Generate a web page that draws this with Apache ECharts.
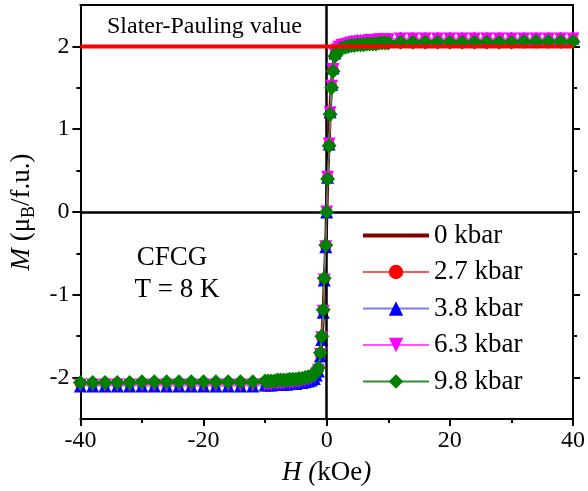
<!DOCTYPE html>
<html>
<head>
<meta charset="utf-8">
<script src="https://cdn.jsdelivr.net/npm/echarts@6/dist/echarts.min.js"></script>
<style>
  html, body { margin: 0; padding: 0; background: #fff; }
  #chart { width: 588px; height: 491px; }
</style>
</head>
<body>
<div id="chart"></div>
<script>
// Applied field H (kOe), shared by every pressure run
const fieldH = [
  -40, -38, -36, -34, -32, -30, -28, -26, -24, -22, -20, -18, -16, -14, -12,
  -10, -9.5, -9, -8.5, -8, -7.5, -7, -6.5, -6, -5.5, -5, -4.5, -4, -3.5, -3, -2.5, -2,
  -1.7, -1.34, -1.03, -0.8, -0.56, -0.4, -0.15, 0, 0.15, 0.4, 0.56, 0.8, 1.03, 1.34, 1.7,
  2, 2.5, 3, 3.5, 4, 4.5, 5, 5.5, 6, 6.5, 7, 7.5, 8, 8.5, 9, 9.5, 10,
  12, 14, 16, 18, 20, 22, 24, 26, 28, 30, 32, 34, 36, 38, 40
];

// Magnetization M (μB/f.u.) at each pressure
const m0kbar = [
  -2.07, -2.07, -2.07, -2.07, -2.07, -2.07, -2.07, -2.07, -2.07, -2.07, -2.07, -2.07, -2.07, -2.07, -2.07,
  -2.06, -2.06, -2.06, -2.05, -2.05, -2.05, -2.05, -2.04, -2.04, -2.04, -2.03, -2.03, -2.02, -2.01, -2.00, -1.99, -1.97,
  -1.95, -1.90, -1.75, -1.55, -1.25, -0.90, -0.45, 0, 0.45, 0.90, 1.25, 1.55, 1.75, 1.90, 1.95,
  1.97, 1.99, 2.00, 2.01, 2.02, 2.03, 2.03, 2.04, 2.04, 2.04, 2.05, 2.05, 2.05, 2.06, 2.06, 2.06, 2.06,
  2.07, 2.07, 2.07, 2.07, 2.07, 2.07, 2.07, 2.07, 2.07, 2.07, 2.07, 2.07, 2.07, 2.07, 2.07
];
const m27kbar = [
  -2.08, -2.08, -2.08, -2.08, -2.08, -2.08, -2.08, -2.08, -2.08, -2.08, -2.08, -2.08, -2.08, -2.08, -2.08,
  -2.07, -2.07, -2.07, -2.06, -2.06, -2.06, -2.06, -2.05, -2.05, -2.05, -2.04, -2.04, -2.03, -2.02, -2.01, -2.00, -1.98,
  -1.95, -1.90, -1.72, -1.52, -1.20, -0.82, -0.42, 0, 0.42, 0.82, 1.20, 1.52, 1.72, 1.90, 1.95,
  1.98, 2.00, 2.01, 2.02, 2.03, 2.04, 2.04, 2.05, 2.05, 2.05, 2.06, 2.06, 2.06, 2.07, 2.07, 2.07, 2.07,
  2.08, 2.08, 2.08, 2.08, 2.08, 2.08, 2.08, 2.08, 2.08, 2.08, 2.08, 2.08, 2.08, 2.08, 2.08
];
const m38kbar = [
  -2.10, -2.10, -2.10, -2.10, -2.10, -2.10, -2.10, -2.10, -2.10, -2.10, -2.10, -2.10, -2.10, -2.10, -2.10,
  -2.09, -2.09, -2.09, -2.08, -2.08, -2.08, -2.08, -2.08, -2.07, -2.07, -2.07, -2.06, -2.06, -2.05, -2.04, -2.03, -2.01,
  -1.97, -1.92, -1.74, -1.54, -1.21, -0.82, -0.42, 0, 0.42, 0.82, 1.21, 1.54, 1.74, 1.92, 1.97,
  2.01, 2.03, 2.04, 2.05, 2.06, 2.06, 2.07, 2.07, 2.07, 2.08, 2.08, 2.08, 2.08, 2.09, 2.09, 2.09, 2.09,
  2.10, 2.10, 2.10, 2.10, 2.10, 2.10, 2.10, 2.10, 2.10, 2.10, 2.10, 2.10, 2.10, 2.10, 2.10
];
const m63kbar = [
  -2.09, -2.09, -2.09, -2.09, -2.09, -2.09, -2.09, -2.09, -2.09, -2.09, -2.09, -2.09, -2.09, -2.09, -2.09,
  -2.08, -2.08, -2.08, -2.07, -2.07, -2.07, -2.07, -2.06, -2.06, -2.06, -2.05, -2.05, -2.04, -2.03, -2.02, -2.01, -1.99,
  -1.96, -1.91, -1.72, -1.52, -1.20, -0.82, -0.42, 0, 0.42, 0.82, 1.20, 1.52, 1.72, 1.91, 1.96,
  1.99, 2.01, 2.02, 2.03, 2.04, 2.05, 2.05, 2.06, 2.06, 2.06, 2.07, 2.07, 2.07, 2.08, 2.08, 2.08, 2.08,
  2.09, 2.09, 2.09, 2.09, 2.09, 2.09, 2.09, 2.09, 2.09, 2.09, 2.09, 2.09, 2.09, 2.09, 2.09
];
const m98kbar = [
  -2.06, -2.06, -2.06, -2.06, -2.06, -2.05, -2.05, -2.05, -2.05, -2.05, -2.05, -2.05, -2.05, -2.05, -2.05,
  -2.04, -2.04, -2.04, -2.04, -2.03, -2.03, -2.03, -2.03, -2.02, -2.02, -2.02, -2.01, -2.01, -2.00, -1.99, -1.98, -1.96,
  -1.93, -1.88, -1.70, -1.50, -1.18, -0.80, -0.40, 0, 0.40, 0.80, 1.18, 1.50, 1.70, 1.88, 1.93,
  1.96, 1.98, 1.99, 2.00, 2.01, 2.01, 2.02, 2.02, 2.02, 2.03, 2.03, 2.03, 2.03, 2.04, 2.04, 2.04, 2.04,
  2.05, 2.05, 2.05, 2.05, 2.05, 2.05, 2.05, 2.05, 2.05, 2.05, 2.06, 2.06, 2.06, 2.06, 2.06
];

const seriesNames = ['0 kbar', '2.7 kbar', '3.8 kbar', '6.3 kbar', '9.8 kbar'];
const slaterPauling = 2;
const xTicks = [-40, -20, 0, 20, 40];
const yTicks = [-2, -1, 0, 1, 2];
const yMinorTicks = [-1.5, -0.5, 0.5, 1.5];

const serif = 'Liberation Serif';
const black = '#000';

function pairs(values) {
  return fieldH.map((h, i) => [h, values[i]]);
}

const frameLine = { show: true, onZero: false, lineStyle: { color: black, width: 2 } };

function yAxisDef(position, ticks, tickLen, withLine, withLabels) {
  return {
    type: 'value', min: -2.5, max: 2.5, interval: 0.5, position: position,
    axisLine: withLine ? frameLine : { show: false, onZero: false },
    axisTick: { show: true, inside: false, length: tickLen, customValues: ticks,
                lineStyle: { color: black, width: 2 } },
    axisLabel: withLabels ? {
      show: true, customValues: yTicks, margin: 11,
      fontFamily: serif, fontSize: 24, color: black
    } : { show: false },
    splitLine: { show: false }
  };
}

const chart = echarts.init(document.getElementById('chart'), null, { renderer: 'canvas' });

const option = {
  animation: false,
  backgroundColor: '#fff',
  textStyle: { fontFamily: serif },
  grid: { left: 77, right: 11, top: 5, bottom: 68, containLabel: false },
  xAxis: [
    {
      type: 'value', min: -40, max: 40, interval: 20, position: 'bottom',
      axisLine: frameLine,
      axisTick: { show: true, inside: false, length: 7, lineStyle: { color: black, width: 2 } },
      minorTick: { show: true, splitNumber: 2, length: 4, lineStyle: { color: black, width: 2 } },
      axisLabel: { margin: 10, fontFamily: serif, fontSize: 24, color: black,
                   customValues: xTicks },
      splitLine: { show: false },
      name: '{i|H (}{n|kOe}{i|)}',
      nameLocation: 'middle', nameGap: 40,
      nameTextStyle: {
        fontFamily: serif, fontSize: 27,
        rich: {
          i: { fontFamily: serif, fontSize: 27, fontStyle: 'italic', color: black },
          n: { fontFamily: serif, fontSize: 27, color: black }
        }
      }
    },
    {
      type: 'value', min: -40, max: 40, interval: 20, position: 'top',
      axisLine: frameLine, axisTick: { show: false }, axisLabel: { show: false },
      splitLine: { show: false }
    }
  ],
  yAxis: [
    Object.assign(yAxisDef('left', yTicks, 8, true, true), {
      name: '{i|M }{n|(μ}{s|B}{n|/f.u.)}',
      nameLocation: 'middle', nameGap: 37, nameRotate: 90,
      nameTextStyle: {
        fontFamily: serif, fontSize: 27,
        rich: {
          i: { fontFamily: serif, fontSize: 27, fontStyle: 'italic', color: black, lineHeight: 34, verticalAlign: 'middle' },
          n: { fontFamily: serif, fontSize: 27, color: black, lineHeight: 34, verticalAlign: 'middle' },
          s: { fontFamily: serif, fontSize: 18, color: black, lineHeight: 34, verticalAlign: 'bottom' }
        }
      }
    }),
    yAxisDef('left', yMinorTicks, 4, false, false),
    yAxisDef('right', yTicks, 7, true, false),
    yAxisDef('right', yMinorTicks, 4, false, false)
  ],
  legend: {
    data: [
      { name: seriesNames[0], icon: 'path://M0 0H66V4H0Z' },
      seriesNames[1], seriesNames[2], seriesNames[3], seriesNames[4]
    ],
    orient: 'vertical',
    left: 362, top: 222,
    padding: 0,
    itemWidth: 66, itemHeight: 18, itemGap: 9.5,
    textStyle: { fontFamily: serif, fontSize: 27, color: black, lineHeight: 27 }
  },
  graphic: [
    { type: 'text', x: 107, y: 27, silent: true,
      style: { text: 'Slater-Pauling value', fontFamily: serif, fontSize: 24, fill: black,
               align: 'left', verticalAlign: 'middle' } },
    { type: 'text', x: 172, y: 258, silent: true,
      style: { text: 'CFCG', fontFamily: serif, fontSize: 27, fill: black,
               align: 'center', verticalAlign: 'middle' } },
    { type: 'text', x: 177, y: 290, silent: true,
      style: { text: 'T = 8 K', fontFamily: serif, fontSize: 27, fill: black,
               align: 'center', verticalAlign: 'middle' } }
  ],
  series: [
    // zero reference lines through the origin
    {
      name: 'origin', type: 'line', data: [[0, 0]], showSymbol: false, symbol: 'none',
      lineStyle: { width: 0 }, z: 1, silent: true,
      markLine: {
        silent: true, symbol: 'none', animation: false,
        label: { show: false },
        lineStyle: { color: black, width: 2.5, type: 'solid' },
        emphasis: { disabled: true },
        data: [{ yAxis: 0 }, { xAxis: 0 }]
      }
    },
    {
      name: seriesNames[0], type: 'line', data: pairs(m0kbar), z: 2,
      symbol: 'none', showSymbol: false,
      lineStyle: { color: '#800000', width: 3.5 },
      itemStyle: { color: '#800000' }
    },
    {
      name: seriesNames[1], type: 'line', data: pairs(m27kbar), z: 3,
      symbol: 'circle', symbolSize: 11,
      lineStyle: { color: '#ff5a5a', width: 1.2 },
      itemStyle: { color: '#ff0000' }
    },
    {
      name: seriesNames[2], type: 'line', data: pairs(m38kbar), z: 4,
      symbol: 'triangle', symbolSize: 13,
      lineStyle: { color: '#7a7aff', width: 1.2 },
      itemStyle: { color: '#0000ff' }
    },
    {
      name: seriesNames[3], type: 'line', data: pairs(m63kbar), z: 5,
      symbol: 'triangle', symbolRotate: 180, symbolSize: 13,
      lineStyle: { color: '#ff55ff', width: 1.2 },
      itemStyle: { color: '#ff00ff' }
    },
    {
      name: seriesNames[4], type: 'line', data: pairs(m98kbar), z: 6,
      symbol: 'diamond', symbolSize: 15,
      lineStyle: { color: '#2e8b2e', width: 1.2 },
      itemStyle: { color: '#008000' }
    },
    // Slater-Pauling moment
    {
      name: 'Slater-Pauling', type: 'line', z: 7, silent: true,
      data: [[-40, slaterPauling], [40, slaterPauling]],
      symbol: 'none', showSymbol: false,
      lineStyle: { color: '#ff0000', width: 4 }
    }
  ]
};

chart.setOption(option);
</script>
</body>
</html>
